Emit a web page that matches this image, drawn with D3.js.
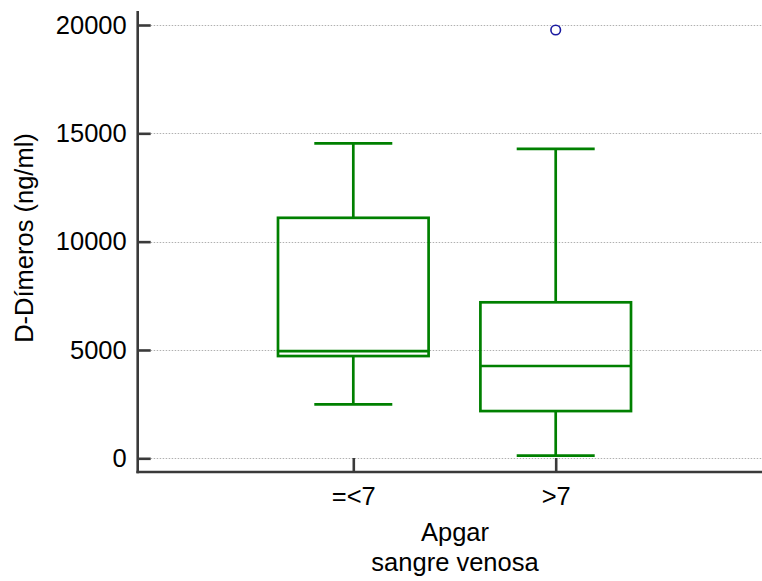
<!DOCTYPE html>
<html>
<head>
<meta charset="utf-8">
<script src="https://cdnjs.cloudflare.com/ajax/libs/d3/7.8.5/d3.min.js"></script>
<style>
  body { margin: 0; background: #fff; }
  svg text { font-family: "Liberation Sans", Arial, sans-serif; fill: #000; }
</style>
</head>
<body>
<div id="chart"></div>
<script>
// Box plot summary
const groups = ["=<7", ">7"];
const whiskerLow = [2490, 120];
const q1 = [4720, 2180];
const median = [4950, 4260];
const q3 = [11100, 7200];
const whiskerHigh = [14540, 14280];
const outliers = [[], [19770]];
const yTicks = [0, 5000, 10000, 15000, 20000];

const width = 762, height = 581;
const axisX = 137.7, axisY = 472;
const fontSize = 25.5;

const svg = d3.select("#chart").append("svg")
  .attr("width", width)
  .attr("height", height);

const y = d3.scaleLinear()
  .domain([0, 20000])
  .range([458.3, 25]);

const x = d3.scalePoint()
  .domain(groups)
  .range([353.3, 555.7]);

const boxHalf = 75.3, capHalf = 39;
const green = "#008000";

// dotted grid lines
svg.append("g")
  .selectAll("line")
  .data(yTicks)
  .join("line")
  .attr("x1", axisX + 13)
  .attr("x2", width)
  .attr("y1", d => Math.round(y(d)) + 0.5)
  .attr("y2", d => Math.round(y(d)) + 0.5)
  .attr("stroke", "#b0b0b0")
  .attr("stroke-width", 1)
  .attr("stroke-dasharray", "1.5,1.5");

// y axis
const yAxis = svg.append("g")
  .attr("transform", `translate(${axisX},0)`)
  .call(d3.axisLeft(y).tickValues(yTicks).tickSize(-13).tickPadding(11).tickFormat(d3.format("d")));
yAxis.select(".domain").remove();
yAxis.selectAll(".tick line").attr("stroke", "#3a3a3a").attr("stroke-width", 2.6);
yAxis.selectAll(".tick text").attr("font-size", fontSize).attr("font-family", "Liberation Sans, Arial, sans-serif");
svg.append("line")
  .attr("x1", axisX).attr("x2", axisX)
  .attr("y1", 11).attr("y2", axisY + 1.3)
  .attr("stroke", "#3a3a3a").attr("stroke-width", 2.6);

// x axis
const xAxis = svg.append("g")
  .attr("transform", `translate(0,${axisY})`)
  .call(d3.axisBottom(x).tickSize(-14).tickPadding(15));
xAxis.select(".domain").remove();
xAxis.selectAll(".tick line").attr("stroke", "#3a3a3a").attr("stroke-width", 2.6);
xAxis.selectAll(".tick text").attr("font-size", fontSize).attr("font-family", "Liberation Sans, Arial, sans-serif");
svg.append("line")
  .attr("x1", axisX - 1.3).attr("x2", width)
  .attr("y1", axisY).attr("y2", axisY)
  .attr("stroke", "#3a3a3a").attr("stroke-width", 2.6);

// boxes
const data = groups.map((g, i) => ({
  g, lo: whiskerLow[i], q1: q1[i], med: median[i], q3: q3[i], hi: whiskerHigh[i], out: outliers[i]
}));

const box = svg.append("g")
  .selectAll("g")
  .data(data)
  .join("g")
  .attr("stroke", green)
  .attr("stroke-width", 2.7)
  .attr("fill", "none");

// whiskers
box.append("line")
  .attr("x1", d => x(d.g)).attr("x2", d => x(d.g))
  .attr("y1", d => y(d.hi)).attr("y2", d => y(d.q3));
box.append("line")
  .attr("x1", d => x(d.g)).attr("x2", d => x(d.g))
  .attr("y1", d => y(d.q1)).attr("y2", d => y(d.lo));
box.append("line")
  .attr("x1", d => x(d.g) - capHalf).attr("x2", d => x(d.g) + capHalf)
  .attr("y1", d => y(d.hi)).attr("y2", d => y(d.hi));
box.append("line")
  .attr("x1", d => x(d.g) - capHalf).attr("x2", d => x(d.g) + capHalf)
  .attr("y1", d => y(d.lo)).attr("y2", d => y(d.lo));

box.append("rect")
  .attr("x", d => x(d.g) - boxHalf)
  .attr("width", boxHalf * 2)
  .attr("y", d => y(d.q3))
  .attr("height", d => y(d.q1) - y(d.q3));

box.append("line")
  .attr("x1", d => x(d.g) - boxHalf).attr("x2", d => x(d.g) + boxHalf)
  .attr("y1", d => y(d.med)).attr("y2", d => y(d.med));

// outliers
box.selectAll("circle")
  .data(d => d.out.map(v => ({ g: d.g, v })))
  .join("circle")
  .attr("cx", d => x(d.g))
  .attr("cy", d => y(d.v))
  .attr("r", 4.8)
  .attr("stroke", "#1a1aa0")
  .attr("stroke-width", 1.6)
  .attr("fill", "none");

// axis titles
svg.append("text")
  .attr("transform", "translate(33,238) rotate(-90)")
  .attr("text-anchor", "middle")
  .attr("font-size", fontSize)
  .text("D-Dímeros (ng/ml)");

svg.append("text")
  .attr("x", 455)
  .attr("y", 541)
  .attr("text-anchor", "middle")
  .attr("font-size", fontSize)
  .text("Apgar");
svg.append("text")
  .attr("x", 455)
  .attr("y", 571)
  .attr("text-anchor", "middle")
  .attr("font-size", fontSize)
  .text("sangre venosa");
</script>
</body>
</html>
